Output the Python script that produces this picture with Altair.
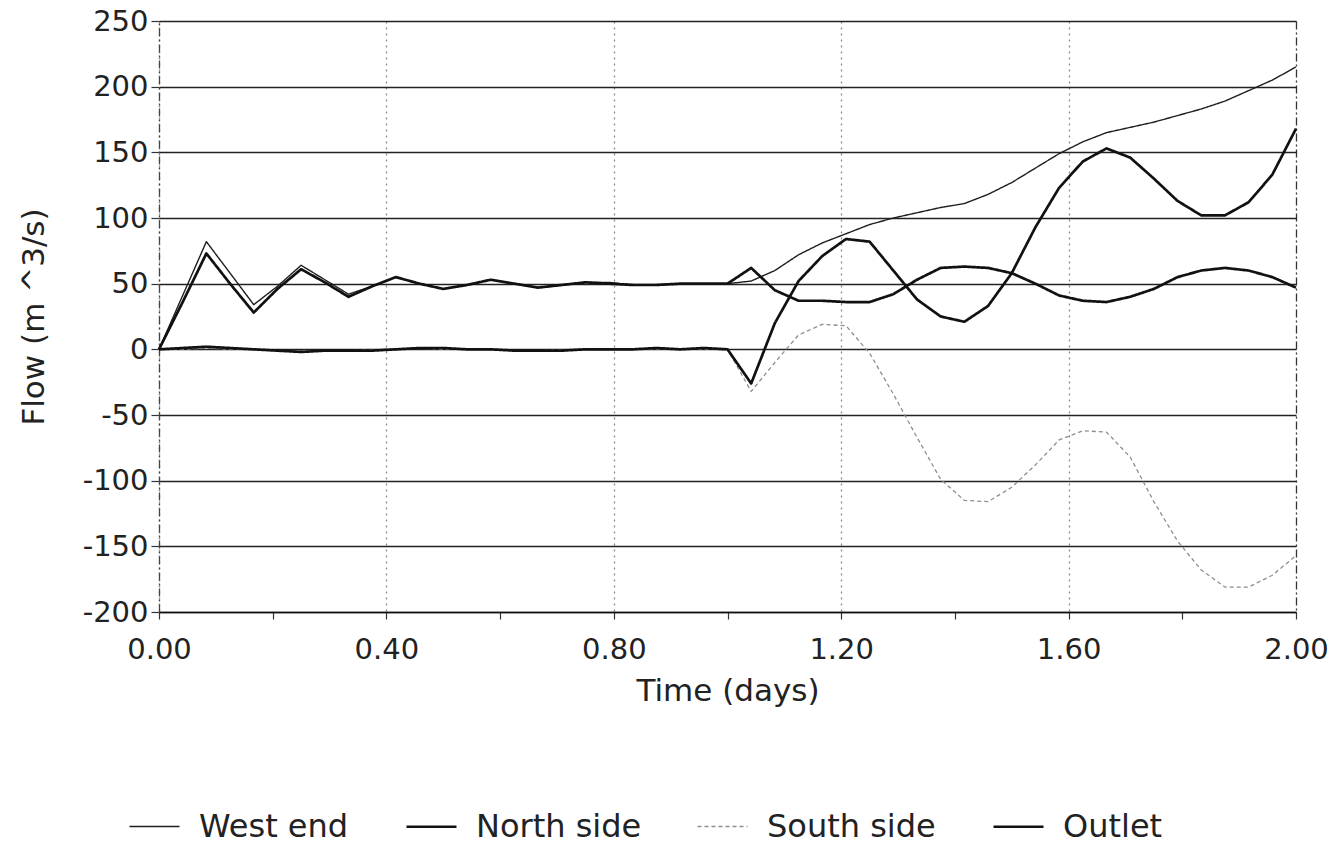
import altair as alt
import pandas as pd

# time in hours (converted to days in the chart)
hours = list(range(0, 49))

west_end = [0, 41, 82, 58, 34, 48, 64, 53, 42, 48, 55, 50, 46, 49, 53, 50, 47, 49, 51, 51,
            49, 49, 50, 50, 50, 52, 60, 72, 81, 88, 95, 100, 104, 108, 111, 118, 127, 138,
            149, 158, 165, 169, 173, 178, 183, 189, 197, 205, 215]
north_side = [0, 36, 73, 50, 28, 46, 61, 51, 40, 48, 55, 50, 46, 49, 53, 50, 47, 49, 51, 50,
              49, 49, 50, 50, 50, 62, 45, 37, 37, 36, 36, 42, 53, 62, 63, 62, 58, 50, 41,
              37, 36, 40, 46, 55, 60, 62, 60, 55, 47]
south_side = [0, 0, 1, 0, 0, -1, -1, -1, -1, 0, 0, 1, 0, 0, 0, -1, -1, 0, 0, 0,
              0, 0, 0, 0, 0, -32, -10, 11, 19, 18, -3, -34, -67, -99, -115, -116, -105, -88,
              -69, -62, -63, -82, -116, -146, -168, -181, -181, -172, -157]
outlet = [0, 1, 2, 1, 0, -1, -2, -1, -1, -1, 0, 1, 1, 0, 0, -1, -1, -1, 0, 0,
          0, 1, 0, 1, 0, -26, 20, 52, 71, 84, 82, 60, 38, 25, 21, 33, 58, 93, 123,
          143, 153, 146, 130, 113, 102, 102, 112, 133, 168]

series_names = ["West end", "North side", "South side", "Outlet"]
series_colors = ["#1e1e1e", "#111111", "#8e8e8e", "#111111"]
series_widths = [1.4, 2.7, 1.3, 2.7]
series_dashes = [[1, 0], [1, 0], [4, 3], [1, 0]]

x_ticks = [0.0, 0.2, 0.4, 0.6, 0.8, 1.0, 1.2, 1.4, 1.6, 1.8, 2.0]
y_ticks = [-200, -150, -100, -50, 0, 50, 100, 150, 200, 250]

rows = []
for name, vals in zip(series_names, [west_end, north_side, south_side, outlet]):
    for h, v in zip(hours, vals):
        rows.append({"hour": h, "flow": v, "series": name})
df = pd.DataFrame(rows)

FONT = "DejaVu Sans"

x_axis = alt.Axis(
    values=x_ticks,
    labelExpr="round(datum.value*10) % 4 == 0 ? format(datum.value, '.2f') : ''",
    labelFont=FONT, labelFontSize=29, labelColor="#222", labelPadding=16,
    labelFlush=False, labelOverlap=False,
    title="Time (days)", titleFont=FONT, titleFontSize=31, titleFontWeight="normal",
    titleColor="#222", titlePadding=12,
    tickSize=7, tickColor="#333", tickWidth=1.2,
    domainColor="#111", domainWidth=1.6,
    grid=True,
    gridOpacity={"condition": {"test": "round(datum.value*10) % 4 != 0", "value": 0}, "value": 1},
    gridColor={"condition": {"test": "datum.value > 1.99", "value": "#333"}, "value": "#8a8a8a"},
    gridDash={"condition": {"test": "datum.value > 1.99", "value": [8, 3, 2, 3]}, "value": [2, 4]},
    gridWidth=1.3,
)

y_axis = alt.Axis(
    values=y_ticks,
    labelExpr="'' + datum.value",
    labelFont=FONT, labelFontSize=29, labelColor="#222", labelPadding=3,
    labelFlush=False,
    title="Flow (m ^3/s)", titleFont=FONT, titleFontSize=31, titleFontWeight="normal",
    titleColor="#222", titlePadding=32,
    tickSize=8, tickColor="#333", tickWidth=1.2,
    domainColor="#444", domainWidth=1.3, domainDash=[8, 3, 2, 3],
    grid=True, gridColor="#222", gridWidth=1.5,
)

legend = alt.Legend(
    title=None, orient="none", legendX=-31, legendY=779, direction="horizontal",
    columns=4, symbolType="stroke", symbolSize=2500, labelFont=FONT, labelFontSize=32,
    labelColor="#222", labelOffset=18, columnPadding=52, labelLimit=400,
)

chart = alt.Chart(df).transform_calculate(
    days="datum.hour / 24"
).mark_line(strokeCap="butt", strokeJoin="round").encode(
    x=alt.X("days:Q", scale=alt.Scale(domain=[0, 2], nice=False), axis=x_axis),
    y=alt.Y("flow:Q", scale=alt.Scale(domain=[-200, 250], nice=False), axis=y_axis),
    color=alt.Color("series:N", scale=alt.Scale(type="ordinal", domain=series_names, range=series_colors), legend=legend),
    strokeWidth=alt.StrokeWidth("series:N", scale=alt.Scale(type="ordinal", domain=series_names, range=series_widths), legend=legend),
    strokeDash=alt.StrokeDash("series:N", scale=alt.Scale(type="ordinal", domain=series_names, range=series_dashes), legend=legend),
    detail="series:N",
).properties(
    width=1137, height=591,
    autosize=alt.AutoSizeParams(type="none"),
    padding={"left": 159, "top": 21, "right": 47, "bottom": 233},
    background="white",
).configure_view(stroke="transparent")

chart.save("out.html", embed_options={"renderer": "svg", "actions": False})
